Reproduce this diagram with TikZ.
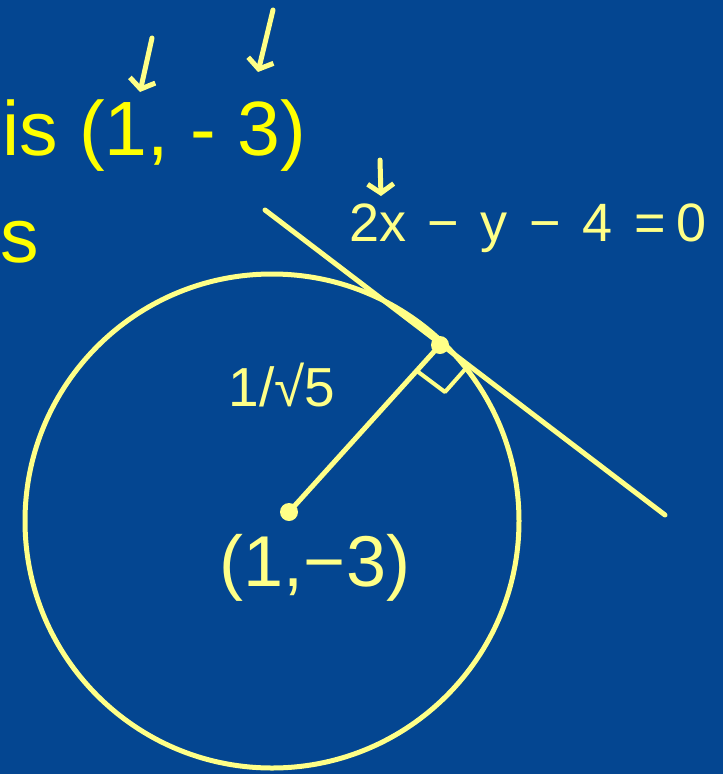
\documentclass[tikz,border=0pt]{standalone}
\usepackage{fontspec}
\setmainfont{Liberation Sans}
\usetikzlibrary{arrows.meta,positioning}
\definecolor{slideblue}{RGB}{4,70,145}
\definecolor{printyellow}{RGB}{255,255,0}
\definecolor{penyellow}{RGB}{255,255,135}

\begin{document}
\begin{tikzpicture}[x=1pt, y=-1pt,
    pen/.style={penyellow, line width=5pt, line cap=round, line join=round},
    penarrow/.style={pen, -{Straight Barb[length=9pt, width=26pt]}},
    penlabel/.style={penyellow, inner sep=0pt, font=\fontsize{#1}{#1}\selectfont},
    printed/.style={printyellow, inner sep=0pt, anchor=base west, font=\fontsize{77}{77}\selectfont}]
    % slide background and fixed frame
    \fill[slideblue] (0,0) rectangle (723,774);
    \useasboundingbox (0,0) rectangle (723,774);

    % printed slide text (cut off at the left)
    \node[printed] (point) at (2,155) {is (1, - 3)};
    \node[printed] (tail) at (0,262) {s};

    % circle, centre, point of contact
    \draw[pen] (272,521) circle[radius=247];
    \coordinate (centre) at (289,512);
    \coordinate (touch) at (440,345);
    \fill[penyellow] (centre) circle[radius=9];
    \fill[penyellow] (touch) circle[radius=9];

    % tangent line and radius
    \coordinate (tanstart) at (265,210);
    \coordinate (tanend) at (665,515);
    \draw[pen] (tanstart) -- (tanend);
    \draw[pen] (centre) -- (touch);

    % right angle mark
    \coordinate (markA) at (417,371);
    \coordinate (markB) at (445,392);
    \coordinate (markC) at (468,366);
    \draw[pen, line width=4pt] (markA) -- (markB) -- (markC);

    % handwritten labels
    \node[penlabel=55] (radius) at (282,385) {1/√5};
    \node[penlabel=72] (centrelabel) at (315,568) {(1,−3)};
    \node[penlabel=54] (tangent) at (528,228)
        {2x\hspace{0.4em}−\hspace{0.4em}y\hspace{0.4em}−\hspace{0.4em}4\hspace{0.4em}=\hspace{0.2em}0};

    % handwritten arrows
    \coordinate (xtop) at (152,38);
    \coordinate (xtip) at (140,92);
    \coordinate (ytop) at (273,10);
    \coordinate (ytip) at (258,72);
    \coordinate (etop) at (380,160);
    \coordinate (etip) at (381,196);
    \draw[penarrow] (xtop) -- (xtip);
    \draw[penarrow] (ytop) -- (ytip);
    \draw[penarrow] (etop) -- (etip);
\end{tikzpicture}
\end{document}
